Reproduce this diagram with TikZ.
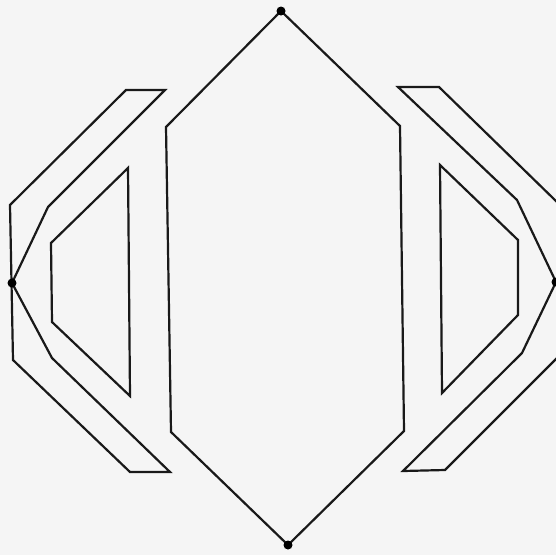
\documentclass[tikz,border=0pt]{standalone}
\begin{document}
\begin{tikzpicture}[x=1pt,y=-1pt,
  edge/.style={draw=black!90,line width=2.2pt,line join=miter},
  pt/.style={circle,fill=black,inner sep=0pt,minimum size=9pt}]
\useasboundingbox[fill=black!4] (0,0) rectangle (556,555);
% central hexagon
\coordinate (ht) at (281,11);
\coordinate (hul) at (166,127);
\coordinate (hll) at (171,432);
\coordinate (hb) at (288,545);
\coordinate (hlr) at (404,431);
\coordinate (hur) at (400,126);
\draw[edge] (ht) -- (hul) -- (hll) -- (hb) -- (hlr) -- (hur) -- cycle;
% left band
\coordinate (lt) at (12,283);
\draw[edge] (126,90) -- (165,90) -- (48,207) -- (lt) -- (52,358) -- (170,472) -- (130,472) -- (13,360) -- (10,205) -- cycle;
% left trapezoid
\draw[edge] (128,168) -- (130,396) -- (52,322) -- (51,243) -- cycle;
% right band
\coordinate (rt) at (556,282);
\draw[edge] (398,87) -- (439,87) -- (558,203) -- (558,357) -- (445,470) -- (403,471) -- (522,353) -- (rt) -- (517,200) -- cycle;
% right trapezoid
\draw[edge] (440,165) -- (442,393) -- (518,315) -- (518,240) -- cycle;
% dots
\node[pt] (dt) at (ht) {};
\node[pt] (db) at (hb) {};
\node[pt] (dl) at (lt) {};
\node[pt] (dr) at (rt) {};
\end{tikzpicture}
\end{document}
